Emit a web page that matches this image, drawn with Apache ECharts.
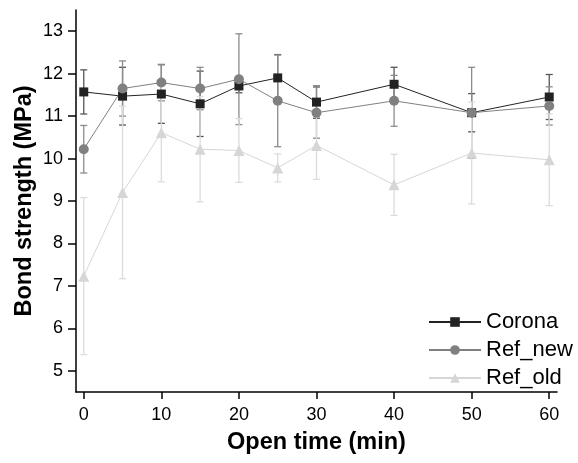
<!DOCTYPE html>
<html>
<head>
<meta charset="utf-8">
<script src="https://cdn.jsdelivr.net/npm/echarts@6/dist/echarts.min.js"></script>
<style>
  html, body { margin: 0; padding: 0; background: #fff; }
  #chart { width: 578px; height: 463px; }
</style>
</head>
<body>
<div id="chart"></div>
<script>
// open time (min)
const times = [0, 5, 10, 15, 20, 25, 30, 40, 50, 60];

// bond strength (MPa), mean and error
const corona = [11.57, 11.47, 11.52, 11.29, 11.71, 11.90, 11.33, 11.75, 11.08, 11.45];
const coronaErr = [0.52, 0.68, 0.69, 0.77, 0.16, 0.55, 0.38, 0.40, 0.45, 0.53];
const refNew = [10.22, 11.65, 11.79, 11.65, 11.87, 11.36, 11.08, 11.36, 11.08, 11.24];
const refNewErr = [0.56, 0.65, 0.43, 0.50, 1.07, 1.08, 0.60, 0.60, 1.07, 0.45];
const refOld = [7.23, 9.20, 10.61, 10.22, 10.19, 9.78, 10.31, 9.38, 10.13, 9.97];
const refOldErr = [1.85, 2.03, 1.16, 1.24, 0.75, 0.33, 0.80, 0.72, 1.20, 1.08];

const xTicks = [0, 10, 20, 30, 40, 50, 60];
const yTicks = [5, 6, 7, 8, 9, 10, 11, 12, 13];

const FONT = 'Liberation Sans, Arial, sans-serif';

// 误差线 (custom series)
function errorSeries(name, means, errs, color) {
    return {
        name: name + '_err',
        type: 'custom',
        data: times.map((t, i) => [t, means[i] - errs[i], means[i] + errs[i]]),
        renderItem(params, api) {
            const lo = api.coord([api.value(0), api.value(1)]);
            const hi = api.coord([api.value(0), api.value(2)]);
            const w = 3.5;
            const style = { stroke: color, lineWidth: 1.3 };
            return {
                type: 'group',
                children: [
                    { type: 'line', shape: { x1: lo[0], y1: lo[1], x2: hi[0], y2: hi[1] }, style },
                    { type: 'line', shape: { x1: hi[0] - w, y1: hi[1], x2: hi[0] + w, y2: hi[1] }, style },
                    { type: 'line', shape: { x1: lo[0] - w, y1: lo[1], x2: lo[0] + w, y2: lo[1] }, style }
                ]
            };
        },
        silent: true
    };
}

function lineSeries(name, means, color, symbol, size) {
    return {
        name,
        type: 'line',
        data: times.map((t, i) => [t, means[i]]),
        symbol,
        symbolSize: size,
        lineStyle: { color, width: 1 },
        itemStyle: { color, opacity: 1 },
        emphasis: { disabled: true }
    };
}

const chart = echarts.init(document.getElementById('chart'));
chart.setOption({
    animation: false,
    textStyle: { fontFamily: FONT },
    grid: { left: 76, right: 21, top: 10, bottom: 71, containLabel: false, outerBoundsMode: 'none' },
    legend: {
        data: ['Corona', 'Ref_new', 'Ref_old'],
        orient: 'vertical',
        left: 423,
        top: 306,
        itemWidth: 52,
        itemHeight: 12,
        itemGap: 6,
        textStyle: { fontSize: 22, fontFamily: FONT, color: '#000', lineHeight: 22 }
    },
    xAxis: {
        type: 'value',
        min: -1,
        max: 61,
        name: 'Open time (min)',
        nameLocation: 'middle',
        nameGap: 39,
        nameMoveOverlap: false,
        nameTextStyle: { fontSize: 23.5, fontWeight: 'bold', color: '#000', fontFamily: FONT },
        axisLine: { onZero: false, lineStyle: { color: '#000', width: 1.5 } },
        axisTick: { customValues: xTicks, length: 7, lineStyle: { color: '#000', width: 1.5 } },
        axisLabel: { customValues: xTicks, fontSize: 18, color: '#000', margin: 14, fontFamily: FONT },
        splitLine: { show: false }
    },
    yAxis: {
        type: 'value',
        min: 4.5,
        max: 13.5,
        name: 'Bond strength (MPa)',
        nameLocation: 'middle',
        nameGap: 39,
        nameMoveOverlap: false,
        nameTextStyle: { fontSize: 23.5, fontWeight: 'bold', color: '#000', fontFamily: FONT },
        axisLine: { show: true, onZero: false, lineStyle: { color: '#000', width: 1.5 } },
        axisTick: { show: true, customValues: yTicks, length: 8, lineStyle: { color: '#000', width: 1.5 } },
        axisLabel: { customValues: yTicks, fontSize: 18, color: '#000', margin: 13, fontFamily: FONT },
        splitLine: { show: false }
    },
    series: [
        errorSeries('Corona', corona, coronaErr, '#555555'),
        lineSeries('Corona', corona, '#222222', 'rect', 9),
        errorSeries('Ref_new', refNew, refNewErr, '#8c8c8c'),
        lineSeries('Ref_new', refNew, '#808080', 'circle', 10),
        errorSeries('Ref_old', refOld, refOldErr, '#dcdcdc'),
        lineSeries('Ref_old', refOld, '#d6d6d6', 'triangle', 11)
    ]
});
window.addEventListener('resize', () => chart.resize());
</script>
</body>
</html>
